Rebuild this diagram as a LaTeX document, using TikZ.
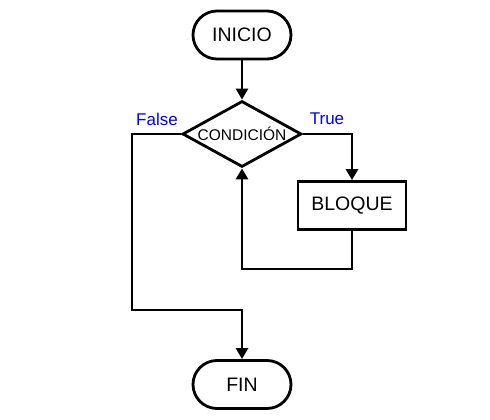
\documentclass[tikz,border=0pt]{standalone}
\usepackage{fontspec}
\setmainfont{Liberation Sans}
\usetikzlibrary{shapes.geometric,arrows.meta}
\begin{document}
\begin{tikzpicture}[
  x=1pt,y=-1pt,
  every node/.style={font=\fontsize{19.5}{21}\selectfont},
  terminal/.style={draw,line width=2.8pt,rectangle,rounded corners=24pt,minimum width=98pt,minimum height=48pt,inner sep=0pt},
  decision/.style={draw,line width=2.8pt,diamond,aspect=1.78,minimum width=119pt,minimum height=66pt,inner sep=0pt,font=\fontsize{15.5}{17}\selectfont},
  process/.style={draw,line width=2.8pt,rectangle,minimum width=108pt,minimum height=48pt,inner sep=0pt},
  flow/.style={line width=2.8pt,-{Triangle[width=12pt,length=11pt]}},
  lbl/.style={text=blue,font=\fontsize{17}{18}\selectfont,inner sep=0pt}
]
\useasboundingbox (0,0) rectangle (490,420);
\fill[white] (0,0) rectangle (490,420);
\node[terminal] (inicio) at (242,35) {INICIO};
\node[decision] (cond) at (242,134) {CONDICIÓN};
\node[process] (bloque) at (352,205.5) {BLOQUE};
\node[terminal] (fin) at (242,384.5) {FIN};
\node[lbl] (true) at (327,119) {True};
\node[lbl] (false) at (157,119) {False};
\coordinate (lp) at (242,269);
\coordinate (fl) at (132,310);
\draw[flow] (inicio.south) -- (cond.north);
\draw[flow] (cond.east) -| (bloque.north);
\draw[flow] (bloque.south) |- (lp) -- (cond.south);
\draw[flow] (cond.west) -| (fl) -| (fin.north);
\end{tikzpicture}
\end{document}
